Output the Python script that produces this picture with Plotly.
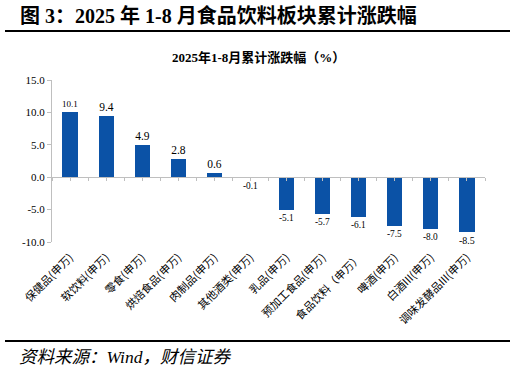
import plotly.graph_objects as go
import numpy as np

categories = ["保健品(申万)", "软饮料(申万)", "零食(申万)", "烘焙食品(申万)", "肉制品(申万)",
              "其他酒类(申万)", "乳品(申万)", "预加工食品(申万)", "食品饮料（申万）", "啤酒(申万)",
              "白酒III(申万)", "调味发酵品III(申万)"]
values = [10.1, 9.4, 4.9, 2.8, 0.6, -0.1, -5.1, -5.7, -6.1, -7.5, -8.0, -8.5]
y_ticks = [15, 10, 5, 0, -5, -10]

W, H = 515, 373
# plot area in window pixels (left, right, top, bottom)
PX0, PX1, PY0, PY1 = 52, 485, 80, 242

def fx(x):
    return x / W

def fy(y):
    return 1 - y / H

serif = "Liberation Serif, Times New Roman, Noto Sans CJK SC, serif"
cjk = "Noto Sans CJK SC, Liberation Serif, serif"
bar_color = "#0b52a6"
axis_gray = "#bfbfbf"

fig = go.Figure()
fig.add_trace(go.Bar(
    x=categories, y=values, width=0.42,
    marker=dict(color=bar_color, line=dict(width=0)),
    text=[f"{v:.1f}" for v in values], textposition="outside",
    textfont=dict(family=serif, size=11.5, color="#000000"),
    cliponaxis=False, hoverinfo="skip",
))
# invisible helper traces so the extra axes get drawn
fig.add_trace(go.Scatter(x=[0], y=[0], xaxis="x2", yaxis="y", mode="markers",
                         marker=dict(opacity=0), hoverinfo="skip", showlegend=False))
for k in (3, 4):
    fig.add_trace(go.Scatter(x=[0.5], y=[0.5], xaxis=f"x{k}", yaxis=f"y{k}", mode="markers",
                             marker=dict(opacity=0), hoverinfo="skip", showlegend=False))

n = len(categories)
ymin, ymax = min(y_ticks), max(y_ticks)
xdom = [fx(PX0), fx(PX1)]
ydom = [fy(PY1), fy(PY0)]
zero_pos = ydom[0] + (0 - ymin) / (ymax - ymin) * (ydom[1] - ydom[0])

rule_x = dict(domain=[fx(5), fx(510)], range=[0, 1], showline=True, linecolor="#000000",
              linewidth=2, ticks="", showticklabels=False, showgrid=False, zeroline=False,
              automargin=False, fixedrange=True)
rule_y = dict(range=[0, 1], visible=False, showgrid=False, zeroline=False, fixedrange=True)

fig.update_layout(
    width=W, height=H, margin=dict(l=0, r=0, t=0, b=0, pad=0),
    paper_bgcolor="white", plot_bgcolor="rgba(0,0,0,0)", showlegend=False,
    xaxis=dict(type="category", domain=xdom, range=[-0.5, n - 0.5], showline=False, ticks="",
               showgrid=False, zeroline=False, tickangle=-45, automargin=False,
               tickfont=dict(family=cjk, size=11, color="#000000"),
               ticklabelstandoff=6),
    xaxis2=dict(overlaying="x", anchor="free", position=zero_pos, domain=xdom,
                range=[-0.5, n - 0.5], showline=True, linecolor=axis_gray, linewidth=1,
                ticks="outside", ticklen=3, tickcolor=axis_gray, tickwidth=1,
                tickvals=list(np.arange(-0.5, n, 0.5)), showticklabels=False,
                showgrid=False, zeroline=False, automargin=False),
    yaxis=dict(domain=ydom, range=[ymin, ymax], tickvals=y_ticks,
               ticktext=[f"{v:.1f}" for v in y_ticks],
               showline=True, linecolor=axis_gray, linewidth=1, ticks="outside",
               ticklen=4, tickcolor=axis_gray, showgrid=False, zeroline=False,
               automargin=False,
               tickfont=dict(family=serif, size=11, color="#000000")),
    xaxis3=dict(anchor="y3", **rule_x),
    yaxis3=dict(anchor="x3", domain=[fy(30), fy(30) + 0.01], **rule_y),
    xaxis4=dict(anchor="y4", **rule_x),
    yaxis4=dict(anchor="x4", domain=[fy(340), fy(340) + 0.01], **rule_y),
    bargap=0,
)

fig.add_annotation(text="<b>图 3：2025 年 1-8 月食品饮料板块累计涨跌幅</b>", xref="paper", yref="paper",
                   x=fx(18), y=fy(15), xanchor="left", yanchor="middle", showarrow=False,
                   font=dict(family=serif, size=20, color="#000000"))
fig.add_annotation(text="<b>2025年1-8月累计涨跌幅（%）</b>", xref="paper", yref="paper",
                   x=fx(258), y=fy(57), xanchor="center", yanchor="middle", showarrow=False,
                   font=dict(family=serif, size=13, color="#000000"))
fig.add_annotation(text="<i>资料来源：Wind，财信证券</i>", xref="paper", yref="paper",
                   x=fx(17), y=fy(357), xanchor="left", yanchor="middle", showarrow=False,
                   font=dict(family=serif, size=17.5, color="#000000"))

fig.write_html("out.html", config={"displayModeBar": False},
               post_script="document.body.style.margin='0';")
